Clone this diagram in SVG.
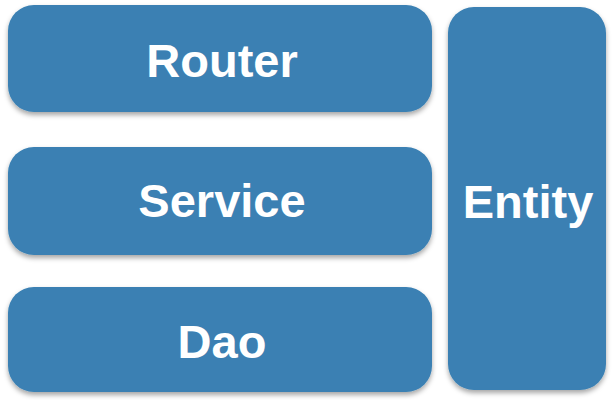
<svg xmlns="http://www.w3.org/2000/svg" width="614" height="400" viewBox="0 0 614 400">
  <style>
    .box { fill: #3a80b3; filter: url(#shadow); }
    .label { font-family: "Liberation Sans", Arial, Helvetica, sans-serif; font-weight: bold; font-size: 47px; fill: #ffffff; text-anchor: middle; }
  </style>
  <defs>
    <filter id="shadow" x="-10%" y="-10%" width="120%" height="130%">
      <feDropShadow dx="0" dy="3" stdDeviation="2.5" flood-color="#000000" flood-opacity="0.35"/>
    </filter>
  </defs>
  <rect width="614" height="400" fill="#ffffff"/>
  <g id="connectors"></g>
  <g id="router">
    <rect class="box" x="8" y="5" width="424" height="107" rx="26" ry="26"/>
    <text class="label" x="222" y="77">Router</text>
  </g>
  <g id="service">
    <rect class="box" x="8" y="147" width="424" height="108" rx="26" ry="26"/>
    <text class="label" x="222" y="217">Service</text>
  </g>
  <g id="dao">
    <rect class="box" x="8" y="287" width="424" height="105" rx="26" ry="26"/>
    <text class="label" x="222" y="358">Dao</text>
  </g>
  <g id="entity">
    <rect class="box" x="448" y="7" width="158" height="383" rx="26" ry="26"/>
    <text class="label" x="528" y="218">Entity</text>
  </g>
</svg>
